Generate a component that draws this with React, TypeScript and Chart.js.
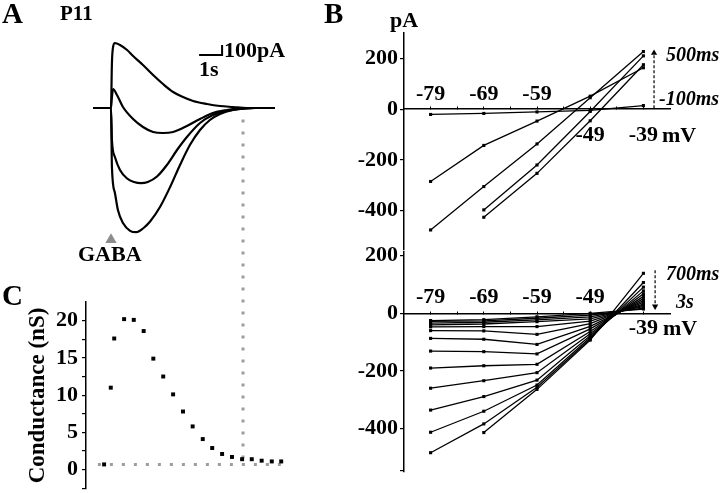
import React, { useEffect, useRef } from 'react';
import { Chart, registerables } from 'chart.js';

Chart.register(...registerables);

const SERIF = "'Liberation Serif', 'Times New Roman', Times, serif";
const INK = '#000';

// ---------------- Panel A : current traces (t in s from GABA onset, I in pA) ----------------
const TRACE1_T = [-0.78, 0, 0.04, 0.09, 0.17, 0.39, 0.7, 0.96, 1.39, 1.83, 2.26, 2.7, 3.13, 3.57, 4.17, 4.74, 5.3, 5.91, 7.13];
const TRACE1_I = [0, 0, 450, 610, 650, 630, 580, 520, 430, 330, 240, 160, 110, 70, 40, 20, 10, 0, 0];
const TRACE2_T = [-0.78, 0, 0.04, 0.09, 0.26, 0.52, 0.96, 1.39, 1.83, 2.26, 2.7, 3.3, 3.87, 4.43, 5.04, 5.61, 6.2, 7.13];
const TRACE2_I = [0, 0, 110, 190, 130, 10, -110, -190, -240, -250, -240, -180, -110, -50, -20, -3, 0, 0];
const TRACE3_T = [-0.78, 0, 0.04, 0.17, 0.39, 0.7, 1.0, 1.3, 1.6, 2.0, 2.43, 2.87, 3.3, 3.87, 4.43, 5.04, 5.61, 6.2, 7.13];
const TRACE3_I = [0, 0, -320, -490, -620, -705, -740, -752, -740, -685, -570, -420, -290, -150, -70, -30, -10, 0, 0];
const TRACE4_T = [-0.78, 0, 0.04, 0.17, 0.3, 0.52, 0.83, 1.1, 1.39, 1.7, 2.13, 2.57, 3.0, 3.43, 3.87, 4.3, 4.74, 5.3, 5.91, 6.3, 7.13];
const TRACE4_I = [0, 0, -590, -850, -1020, -1150, -1228, -1242, -1205, -1135, -990, -790, -570, -370, -220, -120, -60, -20, -5, 0, 0];
const SCALEBAR_T = [3.83, 4.83, 4.83]; // 1 s
const SCALEBAR_I = [530, 530, 630]; // 100 pA
const GABA_T = [0];
const GABA_MARK_I = [-1318];

// ---------------- Panel C : conductance (nS) ----------------
const COND_T = [-0.3, -0.01, 0.14, 0.57, 0.99, 1.42, 1.84, 2.27, 2.7, 3.13, 3.55, 3.99, 4.4, 4.83, 5.26, 5.7, 6.12, 6.55, 6.99, 7.4];
const COND_G = [0.7, 11.0, 17.6, 20.2, 20.1, 18.6, 14.9, 12.5, 10.1, 7.8, 5.8, 4.1, 2.9, 2.1, 1.7, 1.4, 1.4, 1.2, 1.1, 1.1];
const BASELINE_T = [-0.57, 7.78];
const BASELINE_G = [0.7, 0.7];
const LINK_T = [5.74, 5.74];
const LINK_G = [47, 0.7];
const C_TICKS = [-2.5, 0, 2.5, 5, 7.5, 10, 12.5, 15, 17.5, 20];
const C_LABELLED = [0, 5, 10, 15, 20];

// ---------------- Panel B : I-V relations ----------------
const IV_VOLT = [-79, -69, -59, -49, -39];
const X_TICKS = [-79, -74, -69, -64, -59, -54, -49, -44, -39];
// top: -100 ms ... 500 ms
const IV_EARLY_M100 = [-21, -17, -11, -5, 14];
const IV_EARLY_A = [-285, -143, -47, 51, 163];
const IV_EARLY_B = [-476, -305, -137, 45, 227];
const IV_EARLY_C = [null, -397, -220, -9, 210];
const IV_EARLY_D = [null, -426, -253, -46, 175];
const TOP_Y_TICKS = [200, 0, -200, -400];
const TOP_LABEL_ABOVE = [-79, -69, -59];
const TOP_LABEL_BELOW = [-49, -39];
const TOP_ARROW_V = [-37, -37];
const TOP_ARROW_I = [4, 221];
// bottom: 700 ms ... 3 s (one value per trace at each voltage)
const LATE_AT_M79 = [null, -484, -413, -336, -260, -190, -131, -87, -60, -47, -40, -34, -28, -25];
const LATE_AT_M69 = [-414, -384, -340, -289, -234, -182, -133, -90, -61, -46, -37, -31, -26, -22];
const LATE_AT_M59 = [-264, -257, -249, -232, -206, -177, -141, -108, -73, -46, -29, -23, -17, -12];
const LATE_AT_M49 = [-93, -89, -84, -78, -71, -63, -54, -45, -36, -27, -19, -12, -6, 0];
const LATE_AT_M39 = [139, 107, 91, 78, 68, 59, 51, 44, 38, 32, 28, 23, 18, 15];
const BOT_Y_TICKS = [200, 0, -200, -400, -545];
const BOT_Y_LABELLED = [200, 0, -200, -400];
const BOT_LABEL_ABOVE = [-79, -69, -59, -49];
const BOT_LABEL_BELOW = [-39];
const BOT_ARROW_V = [-36.8, -36.8];
const BOT_ARROW_I = [150, 24];

const xy = (xs: number[], ys: (number | null)[]) => xs.map((x, i) => ({ x, y: ys[i] }));

const baseOptions = (padding: any) => ({
  responsive: false,
  animation: false,
  events: [],
  layout: { padding },
  plugins: { legend: { display: false }, tooltip: { enabled: false } },
});

const tickFont = { family: SERIF, size: 22, weight: 'bold' };

function traceSet(ts: number[], is: number[]) {
  return {
    data: xy(ts, is),
    borderColor: INK,
    borderWidth: 2.2,
    pointRadius: 0,
    cubicInterpolationMode: 'monotone',
    clip: false,
  };
}

function panelAConfig(): any {
  return {
    type: 'line',
    data: {
      datasets: [
        traceSet(TRACE1_T, TRACE1_I),
        traceSet(TRACE2_T, TRACE2_I),
        traceSet(TRACE3_T, TRACE3_I),
        traceSet(TRACE4_T, TRACE4_I),
        { data: xy(SCALEBAR_T, SCALEBAR_I), borderColor: INK, borderWidth: 2, pointRadius: 0, tension: 0, clip: false },
        {
          data: xy(GABA_T, GABA_MARK_I), showLine: false, pointStyle: 'triangle', pointRadius: 6.5,
          pointBackgroundColor: '#8c8c8c', pointBorderWidth: 0, clip: false,
        },
      ],
    },
    options: {
      ...baseOptions({ left: 86, right: 420, top: 30, bottom: 253 }),
      scales: {
        x: { type: 'linear', display: false, min: -1.087, max: 8.217 },
        y: { type: 'linear', display: false, min: -1320, max: 780 },
      },
    },
  };
}

function panelCConfig(): any {
  const dotted = { borderColor: '#9d9d9d', borderWidth: 3, borderDash: [3, 9], borderCapStyle: 'butt', pointRadius: 0, clip: false };
  return {
    type: 'line',
    data: {
      datasets: [
        {
          data: xy(COND_T, COND_G), showLine: false, pointStyle: 'rect', pointRadius: 2.8,
          pointBackgroundColor: INK, pointBorderWidth: 0, clip: false,
        },
        { data: xy(BASELINE_T, BASELINE_G), ...dotted },
        { data: xy(LINK_T, LINK_G), ...dotted },
      ],
    },
    options: {
      ...baseOptions({ left: 0, right: 420, top: 302, bottom: 0 }),
      scales: {
        x: { type: 'linear', display: false, min: -1.087, max: 8.217 },
        y: {
          type: 'linear', position: 'left', min: -2.6, max: 22.5,
          afterBuildTicks: (s: any) => { s.ticks = C_TICKS.map((v) => ({ value: v })); },
          afterFit: (s: any) => { s.width = 86; s.paddingTop = 0; s.paddingBottom = 0; },
          grid: { drawOnChartArea: false, tickLength: 4, color: INK, lineWidth: 1.2 },
          border: { color: INK, width: 1.5 },
          ticks: {
            font: tickFont, color: INK, padding: 4, autoSkip: false,
            callback: (v: number) => (C_LABELLED.includes(v) ? String(v) : ''),
          },
          title: {
            display: true, text: 'Conductance (nS)', color: INK,
            font: { family: SERIF, size: 23, weight: 'bold' }, padding: { top: 24, bottom: 0 },
          },
        },
      },
    },
  };
}

function ivConfig(p: {
  series: (number | null)[][]; yMin: number; yMax: number; yTicks: number[]; yLabelled: number[];
  above: number[]; below: number[]; abovePad: number; belowPad: number; padTop: number; padBottom: number;
  arrowV: number[]; arrowI: number[]; arrowRot: number;
}): any {
  const datasets: any[] = p.series.map((s) => ({
    data: xy(IV_VOLT, s),
    borderColor: INK, borderWidth: 1.3, tension: 0,
    pointStyle: 'rect', pointRadius: 2.2, pointBackgroundColor: INK, pointBorderWidth: 0,
    clip: false,
  }));
  datasets.push({
    data: xy(p.arrowV, p.arrowI),
    borderColor: INK, borderWidth: 1.2, borderDash: [3, 2],
    pointRadius: [0, 3.6], pointStyle: 'triangle', pointRotation: p.arrowRot,
    pointBackgroundColor: INK, pointBorderWidth: 0, clip: false,
  });
  const xTicks = (s: any) => { s.ticks = X_TICKS.map((v) => ({ value: v })); };
  const xFit = (s: any) => { s.height = 0; s.paddingLeft = 0; s.paddingRight = 0; };
  return {
    type: 'line',
    data: { datasets },
    options: {
      ...baseOptions({ left: 0, right: 50, top: p.padTop, bottom: p.padBottom }),
      scales: {
        x: {
          type: 'linear', position: { y: 0 }, min: -84, max: -34,
          afterBuildTicks: xTicks, afterFit: xFit,
          grid: { drawOnChartArea: false, drawTicks: true, tickLength: -3, color: INK, lineWidth: 1 },
          border: { color: INK, width: 1.5 },
          ticks: {
            font: tickFont, color: INK, padding: p.belowPad, autoSkip: false, maxRotation: 0, minRotation: 0,
            callback: (v: number) => (p.below.includes(v) ? String(v) : ''),
          },
        },
        x2: {
          axis: 'x', type: 'linear', position: { y: 0 }, min: -84, max: -34,
          afterBuildTicks: xTicks, afterFit: xFit,
          grid: { display: false, drawOnChartArea: false, drawTicks: false, tickLength: 0 },
          border: { display: false },
          ticks: {
            font: tickFont, color: INK, padding: p.abovePad, autoSkip: false, maxRotation: 0, minRotation: 0,
            callback: (v: number) => (p.above.includes(v) ? String(v) : ''),
          },
        },
        y: {
          type: 'linear', position: 'left', min: p.yMin, max: p.yMax,
          afterBuildTicks: (s: any) => { s.ticks = p.yTicks.map((v) => ({ value: v })); },
          afterFit: (s: any) => { s.width = 404; s.paddingTop = 0; s.paddingBottom = 0; },
          grid: { drawOnChartArea: false, tickLength: 4, color: INK, lineWidth: 1.2 },
          border: { color: INK, width: 1.5 },
          ticks: {
            font: tickFont, color: INK, padding: 2, autoSkip: false,
            callback: (v: number) => (p.yLabelled.includes(v) ? String(v) : ''),
          },
        },
      },
    },
  };
}

function ChartCanvas({ make }: { make: () => any }) {
  const ref = useRef<HTMLCanvasElement>(null);
  useEffect(() => {
    const chart = new Chart(ref.current as HTMLCanvasElement, make());
    return () => chart.destroy();
  }, []);
  return (
    <canvas
      ref={ref}
      width={720}
      height={493}
      style={{ position: 'absolute', left: 0, top: 0, width: 720, height: 493 }}
    />
  );
}

function Label({ text, x, base, size, italic }: { text: string; x: number; base: number; size: number; italic?: boolean }) {
  return (
    <div
      style={{
        position: 'absolute', left: x, top: base - 0.8375 * size, fontFamily: SERIF, fontWeight: 'bold',
        fontStyle: italic ? 'italic' : 'normal', fontSize: size, lineHeight: `${size}px`,
        whiteSpace: 'nowrap', color: INK,
      }}
    >
      {text}
    </div>
  );
}

export default function App() {
  const lateSeries = LATE_AT_M39.map((_, i) => [LATE_AT_M79[i], LATE_AT_M69[i], LATE_AT_M59[i], LATE_AT_M49[i], LATE_AT_M39[i]]);
  return (
    <div style={{ position: 'fixed', left: 0, top: 0, width: 720, height: 493, background: '#fff', overflow: 'hidden' }}>
      <ChartCanvas make={panelAConfig} />
      <ChartCanvas make={panelCConfig} />
      <ChartCanvas
        make={() => ivConfig({
          series: [IV_EARLY_M100, IV_EARLY_A, IV_EARLY_B, IV_EARLY_C, IV_EARLY_D],
          yMin: -555, yMax: 300, yTicks: TOP_Y_TICKS, yLabelled: TOP_Y_TICKS,
          above: TOP_LABEL_ABOVE, below: TOP_LABEL_BELOW, abovePad: -28, belowPad: 16,
          padTop: 33, padBottom: 243, arrowV: TOP_ARROW_V, arrowI: TOP_ARROW_I, arrowRot: 0,
        })}
      />
      <ChartCanvas
        make={() => ivConfig({
          series: lateSeries,
          yMin: -551, yMax: 213, yTicks: BOT_Y_TICKS, yLabelled: BOT_Y_LABELLED,
          above: BOT_LABEL_ABOVE, below: BOT_LABEL_BELOW, abovePad: -29, belowPad: 5,
          padTop: 252, padBottom: 21, arrowV: BOT_ARROW_V, arrowI: BOT_ARROW_I, arrowRot: 180,
        })}
      />
      <Label text="A" x={2} base={23} size={29} />
      <Label text="P11" x={60} base={21} size={21} />
      <Label text="B" x={324} base={23} size={29} />
      <Label text="C" x={2} base={305} size={29} />
      <Label text="100pA" x={224} base={57} size={22} />
      <Label text="1s" x={199} base={76} size={22} />
      <Label text="GABA" x={78} base={261} size={22} />
      <Label text="pA" x={390} base={27} size={22} />
      <Label text="500ms" x={666} base={61} size={20} italic />
      <Label text="-100ms" x={659} base={105} size={20} italic />
      <Label text="mV" x={662} base={142} size={22} />
      <Label text="700ms" x={666} base={280} size={20} italic />
      <Label text="3s" x={676} base={308} size={20} italic />
      <Label text="mV" x={663} base={335} size={22} />
    </div>
  );
}
